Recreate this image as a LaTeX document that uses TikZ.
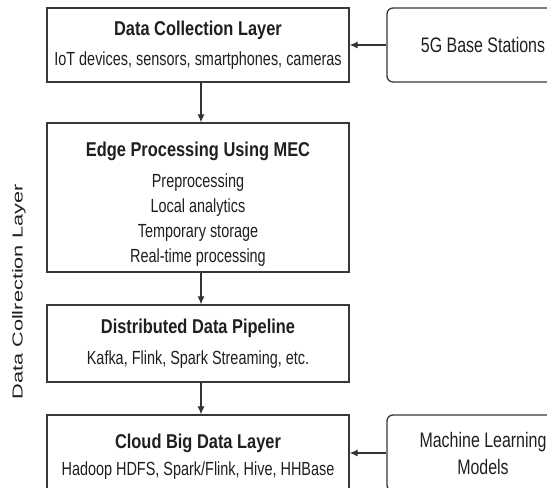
\documentclass[tikz,border=0pt]{standalone}
\usepackage{fontspec}
\setmainfont{Liberation Sans}
\newfontfamily\narrowfont{Liberation Sans}[FakeStretch=0.76]
\newfontfamily\titlefont{Liberation Sans}[FakeStretch=0.82]
\newfontfamily\widefont{Liberation Sans}[FakeStretch=1.5]
\usetikzlibrary{arrows.meta}

\begin{document}
\begin{tikzpicture}[x=1pt, y=-1pt, line width=1.3pt]
    \tikzset{
        layer/.style={draw=black!78, rectangle, minimum width=302pt, inner sep=0pt, align=center, text=black!88, font=\narrowfont\fontsize{19}{25}\selectfont},
        source/.style={draw=black!78, rectangle, rounded corners=6pt, minimum width=192pt, inner sep=0pt, align=center, text=black!88, font=\narrowfont\fontsize{21}{27}\selectfont},
        flow/.style={draw=black!80, line width=1.2pt, -{Latex[length=8pt, width=7pt]}}
    }
    \newcommand{\layertitle}[1]{{\titlefont\bfseries\fontsize{20}{25}\selectfont #1}}

    % Frame
    \useasboundingbox (0,0) rectangle (547,488);
    \clip (0,0) rectangle (547,488);

    % Main layers
    \node [layer, minimum height=74pt] (collect) at (198,45)
        {\layertitle{Data Collection Layer}\\[5pt] IoT devices, sensors, smartphones, cameras};
    \node [layer, minimum height=149pt] (edge) at (198,197.5)
        {\rule{0pt}{27pt}\layertitle{Edge Processing Using MEC}\\[6pt] Preprocessing\\ Local analytics\\ Temporary storage\\ Real-time processing};
    \node [layer, minimum height=77pt] (pipeline) at (198,343.5)
        {\layertitle{Distributed Data Pipeline}\\[6pt] Kafka, Flink, Spark Streaming, etc.};
    \node [layer, minimum height=83pt] (cloud) at (198,456.5)
        {\layertitle{Cloud Big Data Layer}\\[2pt] Hadoop HDFS, Spark/Flink, Hive, HHBase};

    % Sources on the right
    \node [source, minimum height=74pt] (stations) at (483,45) {5G Base Stations};
    \node [source, minimum height=76pt] (models) at (483,453) {Machine Learning\\ Models};

    % Side label
    \node [rotate=90, text=black!88, font=\widefont\fontsize{14.5}{15}\selectfont] (sidelabel) at (19,292) {Data Collrection Layer};

    % Flow between layers
    \draw [flow] ([xshift=3pt]collect.south) -- ([xshift=3pt]edge.north);
    \draw [flow] ([xshift=3pt]edge.south) -- ([xshift=3pt]pipeline.north);
    \draw [flow] ([xshift=3pt]pipeline.south) -- ([xshift=3pt]cloud.north);

    % Inputs
    \draw [flow] (stations.west) -- (collect.east);
    \draw [flow] (models.west) -- (models.west -| cloud.east);

\end{tikzpicture}
\end{document}
